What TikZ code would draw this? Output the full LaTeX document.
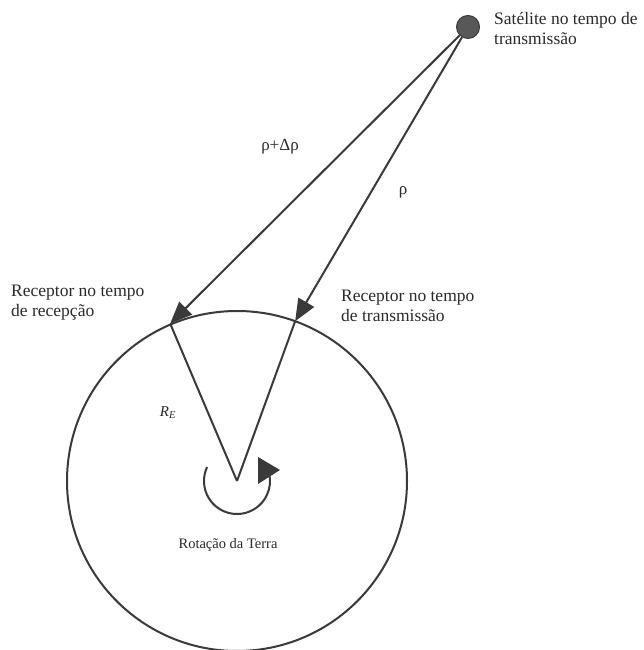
\documentclass[tikz,border=0pt]{standalone}
\usepackage{fontspec}
\setmainfont{Liberation Serif}
\usetikzlibrary{arrows.meta,calc}
\definecolor{ink}{HTML}{3A3A3A}
\definecolor{txt}{HTML}{2A2A2A}
\tikzset{
  conn/.style={draw=ink, line width=2pt},
  ray/.style={conn, -{Triangle[length=22pt,width=18pt]}},
  lbl/.style={text=txt, font=\fontsize{17.5}{20}\selectfont, align=left, inner sep=0pt},
  small/.style={text=txt, font=\fontsize{17}{18}\selectfont, inner sep=0pt},
}
\begin{document}
\begin{tikzpicture}[x=1pt,y=1pt]
\useasboundingbox (0,0) rectangle (643,650);
\fill[white] (0,0) rectangle (643,650);
% Earth
\coordinate (c) at (237,169);
\node[circle, conn, minimum size=340pt, inner sep=0pt] (earth) at (c) {};
\coordinate (r1) at ($(c)+(113:171)$);
\coordinate (r2) at ($(c)+(70:170)$);
% satellite
\node[circle, fill=ink!85, draw=ink, line width=1pt, minimum size=23pt, inner sep=0pt] (sat) at (468,623) {};
% rays
\draw[ray] (sat) -- (r1);
\draw[ray] (sat) -- (r2);
% radii
\draw[conn] (c) -- (r1);
\draw[conn] (c) -- (r2);
% rotation arc
\draw[conn] ($(c)+(155:33)$) arc[start angle=155, end angle=372, radius=33];
\fill[ink] ($(c)+(21,24)$) coordinate (t1) -- ($(c)+(21,-3)$) coordinate (t2) -- ($(c)+(43,11)$) coordinate (t3) -- cycle;
% labels
\node[lbl, anchor=west] (satlbl) at (494,621) {Satélite no tempo de\\transmissão};
\node[lbl, anchor=west] (rec1) at (11,347) {Receptor no tempo\\de recepção};
\node[lbl, anchor=west] (rec2) at (341,344) {Receptor no tempo\\de transmissão};
\node[small] (rhod) at (280,503) {ρ+Δρ};
\node[small] (rho) at (403,458) {ρ};
\node[small, font=\fontsize{15}{18}\selectfont] (re) at (168,237) {\textit{R}\textsubscript{\textit{E}}};
\node[small, font=\fontsize{14.5}{18}\selectfont] (rot) at (228,105) {Rotação da Terra};
\end{tikzpicture}
\end{document}
